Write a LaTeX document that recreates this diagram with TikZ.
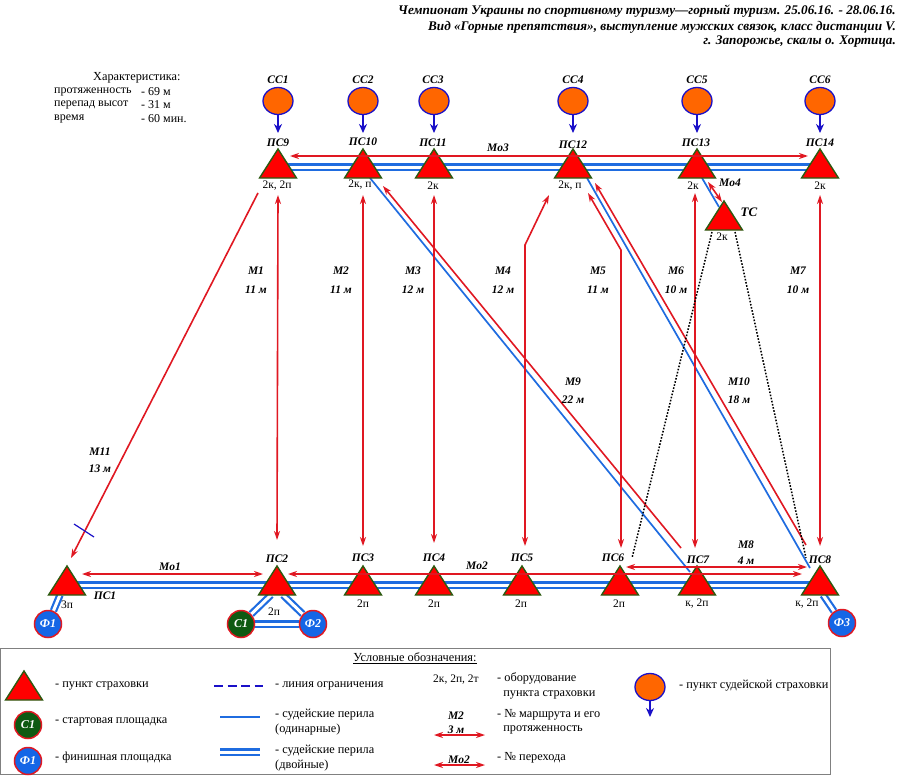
\documentclass[tikz,border=0pt]{standalone}
\usepackage{fontspec}
\setmainfont{Liberation Serif}
\usetikzlibrary{shapes.geometric,arrows.meta}
\definecolor{railblue}{HTML}{1F6CE0}
\definecolor{tracered}{HTML}{E01822}
\definecolor{triedge}{HTML}{2C5A10}
\definecolor{startgreen}{HTML}{0E5A12}
\definecolor{finishblue}{HTML}{1566E6}
\definecolor{judgeorange}{HTML}{FF6600}
\definecolor{judgeblue}{HTML}{1A10C8}
\pgfdeclarelayer{rails}
\pgfsetlayers{rails,main}
\tikzset{
  x=1pt,y=-1pt,
  tri/.style={isosceles triangle,isosceles triangle apex angle=65,shape border rotate=90,
    anchor=apex,draw=triedge,fill=red,line width=1.4pt,inner sep=0pt,outer sep=0pt,minimum height=29pt},
  judgepoint/.style={ellipse,draw=judgeblue,fill=judgeorange,line width=1.3pt,minimum width=30pt,minimum height=27pt,inner sep=0pt},
  startpad/.style={circle,draw=tracered,fill=startgreen,line width=1.5pt,minimum size=27pt,inner sep=0pt,text=white,font=\fontsize{12}{12}\selectfont\bfseries\itshape},
  finishpad/.style={circle,draw=tracered,fill=finishblue,line width=1.5pt,minimum size=27pt,inner sep=0pt,text=white,font=\fontsize{12}{12}\selectfont\bfseries\itshape},
  rail/.style={draw=railblue,line width=1.7pt},
  rail2/.style={draw=railblue,line width=7.4pt,postaction={draw=white,line width=3pt}},
  route/.style={draw=tracered,line width=1.6pt,{Stealth[length=9pt,width=6pt]}-{Stealth[length=9pt,width=6pt]}},
  routetop/.style={draw=tracered,line width=1.6pt,{Stealth[length=9pt,width=6pt]}-},
  routeend/.style={draw=tracered,line width=1.6pt,-{Stealth[length=9pt,width=6pt]}},
  judgearrow/.style={draw=judgeblue,line width=1.5pt,-{Stealth[length=9pt,width=8pt]}},
  tie/.style={draw=black,line width=1.5pt,dash pattern=on 1.6pt off 1.6pt},
  limit/.style={draw=judgeblue,line width=1.2pt},
  nm/.style={font=\fontsize{11.5}{12}\selectfont\bfseries\itshape,inner sep=0pt},
  eq/.style={font=\fontsize{11.5}{12}\selectfont,inner sep=0pt},
  leg/.style={font=\fontsize{12.3}{14.5}\selectfont,inner sep=0pt,anchor=west,align=left},
  info/.style={font=\fontsize{12}{14}\selectfont,inner sep=0pt,anchor=west},
  head/.style={font=\fontsize{13.2}{13}\selectfont\bfseries\itshape,inner sep=0pt,anchor=east},
}
\begin{document}
\begin{tikzpicture}
\useasboundingbox (0,0) rectangle (900,776);
% triangles
\foreach \n/\x in {p9/278,p10/363,p11/434,p12/573,p13/697,p14/820}
  \node[tri] (\n) at (\x,149) {};
\node[tri] (tc) at (724,201) {};
\foreach \n/\x in {p1/67,p2/277,p3/363,p4/434,p5/522,p6/620,p7/697,p8/820}
  \node[tri] (\n) at (\x,566) {};
% judge points
\foreach \n/\x/\p in {c1/278/p9,c2/363/p10,c3/434/p11,c4/573/p12,c5/697/p13,c6/820/p14}{
  \node[judgepoint] (\n) at (\x,101) {};
  \draw[judgearrow] (\n.south) -- ([yshift=16pt]\p.apex);
}
% pads
\node[finishpad] (f1) at (48,624) {Ф1};
\node[startpad] (s1) at (241,624) {С1};
\node[finishpad] (f2) at (313,624) {Ф2};
\node[finishpad] (f3) at (842,623) {Ф3};
% rails
\begin{pgfonlayer}{rails}
\fill[white] (0,0) rectangle (900,776);
\draw[rail2] ([yshift=11pt]p9.lower side) -- ([yshift=11pt]p14.lower side);
\draw[rail2] ([yshift=10pt]p1.lower side) -- ([yshift=10pt]p8.lower side);
\draw[rail2] ([xshift=-7pt]p1.lower side) -- (f1);
\draw[rail2] ([xshift=-6pt]p2.lower side) -- (s1);
\draw[rail2] ([xshift=6pt]p2.lower side) -- (f2);
\draw[rail2] (s1) -- (f2);
\draw[rail2] ([xshift=3pt]p8.lower side) -- (f3);
\draw[rail] ([xshift=7pt]p10.lower side) -- ([xshift=-7pt,yshift=-6pt]p7.apex);
\draw[rail] ([xshift=14pt]p12.lower side) -- ([xshift=-10pt,yshift=-2pt]p8.apex);
\draw[rail] ([xshift=5pt]p13.lower side) -- ([xshift=-5pt,yshift=-6pt]tc.apex);
\end{pgfonlayer}
% horizontal traverses
\draw[route] ([yshift=-7pt,xshift=12pt]p9.apex) -- ([yshift=-7pt,xshift=-12pt]p14.apex);
\draw[route] ([yshift=-8pt,xshift=15pt]p1.apex) -- ([yshift=-8pt,xshift=-14pt]p2.apex);
\draw[route] ([yshift=-8pt,xshift=11pt]p2.apex) -- ([yshift=-8pt,xshift=-18pt]p8.apex);
\draw[route] ([yshift=-1pt,xshift=6pt]p6.apex) -- ([yshift=-1pt,xshift=-13pt]p8.apex);
\draw[route] ([xshift=11pt,yshift=-4pt]p13.lower side) -- ([xshift=-2pt,yshift=-1pt]tc.apex);
% verticals
\draw[route] ([yshift=-17pt]p9.lower side) -- ([yshift=26pt]p2.apex);
\draw[route] ([yshift=-17pt]p10.lower side) -- ([yshift=20pt]p3.apex);
\draw[route] ([yshift=-17pt]p11.lower side) -- ([yshift=23pt]p4.apex);
\coordinate (k4a) at (525,245);
\coordinate (k5a) at (621,250);
\draw[route] ([xshift=3pt,yshift=20pt]p5.apex) -- (k4a) -- ([xshift=-24pt,yshift=-17pt]p12.lower side);
\draw[route] ([xshift=1pt,yshift=18pt]p6.apex) -- (k5a) -- ([xshift=15pt,yshift=-15pt]p12.lower side);
\draw[route] ([xshift=-2pt,yshift=-15pt]p13.lower side) -- ([xshift=-2pt,yshift=18pt]p7.apex);
\draw[route] ([yshift=-17pt]p14.lower side) -- ([yshift=20pt]p8.apex);
% diagonals
\draw[routetop] ([xshift=20pt,yshift=-8pt]p10.lower side) -- ([xshift=-16pt,yshift=18pt]p7.apex);
\draw[routetop] ([xshift=22pt,yshift=-5pt]p12.lower side) -- ([xshift=-14pt,yshift=21pt]p8.apex);
\draw[routeend] ([xshift=-20pt,yshift=-15pt]p9.lower side) -- ([xshift=4pt,yshift=8pt]p1.apex);
\coordinate (lim1) at (74,524);
\coordinate (lim2) at (94,537);
\draw[limit] (lim1) -- (lim2);
% dotted ties
\draw[tie] ([xshift=-12pt,yshift=-2pt]tc.lower side) -- ([xshift=12pt,yshift=8pt]p6.apex);
\draw[tie] ([xshift=11pt,yshift=-2pt]tc.lower side) -- ([xshift=-14pt,yshift=8pt]p8.apex);
% route names
\foreach \n/\x/\y/\t in {
 a1/256/271/М1,a1b/256/290/{11 м},a2/341/271/М2,a2b/341/290/{11 м},a3/413/271/М3,a3b/413/290/{12 м},
 a4/503/271/М4,a4b/503/290/{12 м},a5/598/271/М5,a5b/598/290/{11 м},a6/676/271/М6,a6b/676/290/{10 м},
 a7/798/271/М7,a7b/798/290/{10 м},a9/573/382/М9,a9b/573/400/{22 м},a10/739/382/М10,a10b/739/400/{18 м},
 a11/100/452/М11,a11b/100/469/{13 м},a8/746/545/М8,a8b/746/561/{4 м},
 o1/170/567/Мо1,o2/477/566/Мо2,o3/498/148/Мо3,o4/730/183/Мо4,
 s1n/278/143/ПС9,s2n/363/142/ПС10,s3n/433/143/ПС11,s4n/573/145/ПС12,s5n/696/143/ПС13,s6n/820/143/ПС14,
 j1/278/80/СС1,j2/363/80/СС2,j3/433/80/СС3,j4/573/80/СС4,j5/697/80/СС5,j6/820/80/СС6,
 b1/105/596/ПС1,b2/277/559/ПС2,b3/363/558/ПС3,b4/434/558/ПС4,b5/522/558/ПС5,b6/613/558/ПС6,b7/698/560/ПС7,b8/820/560/ПС8}
  \node[nm] (\n) at (\x,\y) {\t};
\node[nm,font=\fontsize{13}{13}\selectfont\bfseries\itshape] (tcn) at (749,212) {ТС};
% equipment
\foreach \n/\x/\y/\t in {
 e9/277/186/{2к, 2п},e10/360/185/{2к, п},e11/433/186/2к,e12/570/186/{2к, п},e13/693/186/2к,e14/820/186/2к,
 et/722/237/2к,e1/67/605/3п,e2/274/612/2п,e3/363/604/2п,e4/434/604/2п,e5/521/604/2п,e6/619/604/2п,e7/697/604/{к, 2п},e8/807/604/{к, 2п}}
  \node[eq] (\n) at (\x,\y) {\t};
% header
\node[head] (h1) at (896,11) {Чемпионат Украины по спортивному туризму—горный туризм. 25.06.16. - 28.06.16.};
\node[head] (h2) at (896,27) {Вид «Горные препятствия», выступление мужских связок, класс дистанции V.};
\node[head] (h3) at (896,42) {г. Запорожье, скалы о. Хортица.};
% characteristics
\node[leg] (ch0) at (93,78) {Характеристика:};
\node[info] (ch1) at (54,92) {протяженность};
\node[info] (ch2) at (54,105) {перепад высот};
\node[info] (ch3) at (54,119) {время};
\node[info] (cv1) at (141,92) {- 69 м};
\node[info] (cv2) at (141,105) {- 31 м};
\node[info] (cv3) at (141,119) {- 60 мин.};
% legend
\node[draw=gray,line width=1pt,minimum width=830pt,minimum height=126pt,inner sep=0pt,anchor=north west] (box) at (0,648) {};
\node[leg,anchor=center] (lt) at (415,658) {\underline{Условные обозначения:}};
\node[tri] (ltri) at (24,671) {};
\node[startpad] (ls) at (28,725) {С1};
\node[finishpad] (lf) at (28,761) {Ф1};
\node[leg] (t1) at (55,686) {- пункт страховки};
\node[leg] (t2) at (55,722) {- стартовая площадка};
\node[leg] (t3) at (55,758) {- финишная площадка};
\coordinate (d1) at (214,686); \coordinate (d2) at (263,686);
\draw[draw=judgeblue,line width=1.3pt,dash pattern=on 9pt off 4.5pt] (d1) -- (d2);
\coordinate (r1) at (220,717); \coordinate (r2) at (260,717);
\draw[rail] (r1) -- (r2);
\coordinate (r3) at (220,752); \coordinate (r4) at (260,752);
\draw[rail2] (r3) -- (r4);
\node[leg] (t4) at (275,686) {- линия ограничения};
\node[leg] (t5) at (275,722) {- судейские перила\\(одинарные)};
\node[leg] (t6) at (275,758) {- судейские перила\\(двойные)};
\node[eq] (t7) at (456,680) {2к, 2п, 2т};
\node[leg] (t8) at (497,686) {- оборудование\\\ \ пункта страховки};
\node[nm] (t9) at (456,716) {М2};
\node[nm] (t10) at (456,730) {3 м};
\coordinate (a1l) at (434,735); \coordinate (a1r) at (485,735);
\draw[route] (a1l) -- (a1r);
\node[nm] (t11) at (459,760) {Мо2};
\coordinate (a2l) at (434,765); \coordinate (a2r) at (485,765);
\draw[route] (a2l) -- (a2r);
\node[leg] (t12) at (497,722) {- № маршрута и его\\\ \ протяженность};
\node[leg] (t13) at (497,758) {- № перехода};
\node[judgepoint] (lj) at (650,687) {};
\coordinate (lja) at (650,717);
\draw[judgearrow] (lj.south) -- (lja);
\node[leg] (t14) at (679,686) {- пункт судейской страховки};
\end{tikzpicture}
\end{document}
